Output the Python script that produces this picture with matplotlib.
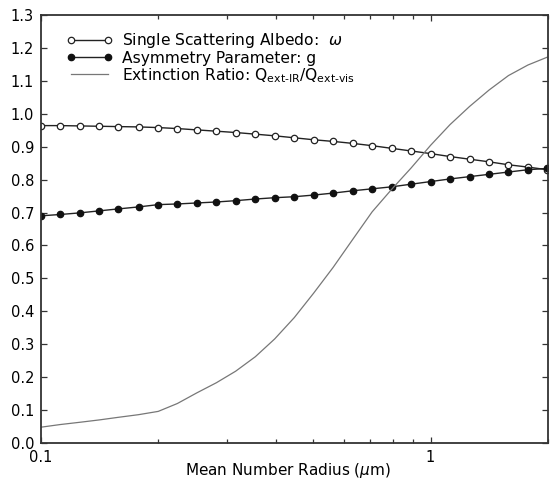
#!/usr/bin/env python3
'''
Optical properties vs mean number radius
'''
import matplotlib
matplotlib.use('Agg')
import matplotlib.pyplot as plt
from matplotlib.ticker import FixedLocator, FixedFormatter, NullFormatter

plt.rcParams['font.family'] = ['DejaVu Sans']
plt.rcParams['mathtext.fontset'] = 'dejavusans'

# mean number radius (um), log spaced
radius = [0.100, 0.112, 0.126, 0.141, 0.158, 0.178, 0.200, 0.224, 0.251,
          0.282, 0.316, 0.355, 0.398, 0.447, 0.501, 0.562, 0.631, 0.708,
          0.794, 0.891, 1.000, 1.122, 1.259, 1.413, 1.585, 1.778, 1.995]

albedo = [0.964, 0.964, 0.963, 0.962, 0.961, 0.960, 0.958, 0.955, 0.951,
          0.947, 0.943, 0.938, 0.933, 0.927, 0.921, 0.916, 0.910, 0.903,
          0.895, 0.887, 0.879, 0.870, 0.862, 0.854, 0.845, 0.838, 0.830]

asym = [0.690, 0.694, 0.699, 0.705, 0.711, 0.717, 0.724, 0.726, 0.729,
        0.732, 0.736, 0.741, 0.745, 0.748, 0.753, 0.759, 0.766, 0.772,
        0.778, 0.786, 0.794, 0.802, 0.809, 0.816, 0.823, 0.830, 0.834]

ext_ratio = [0.048, 0.056, 0.063, 0.070, 0.078, 0.086, 0.096, 0.120, 0.152,
             0.183, 0.218, 0.262, 0.316, 0.381, 0.455, 0.533, 0.618, 0.702,
             0.770, 0.835, 0.904, 0.967, 1.022, 1.072, 1.116, 1.148, 1.172]

y_ticks = [0.0, 0.1, 0.2, 0.3, 0.4, 0.5, 0.6, 0.7, 0.8, 0.9, 1.0, 1.1, 1.2, 1.3]


def main():
    ''' Draw the figure '''
    fig = plt.figure(figsize=(5.59, 4.80), dpi=100)
    ax = fig.add_axes([0.0733, 0.0771, 0.9067, 0.8917])

    ax.plot(radius, albedo, color='#222222', lw=1.0, marker='o', ms=4.6,
            mfc='white', mec='#222222', mew=0.9,
            label=r'Single Scattering Albedo:  $\omega$')
    ax.plot(radius, asym, color='#222222', lw=1.0, marker='o', ms=4.6,
            mfc='#111111', mec='#111111', mew=0.9,
            label='Asymmetry Parameter: g')
    ax.plot(radius, ext_ratio, color='#777777', lw=0.9,
            label='Extinction Ratio: Q$_{\\mathregular{ext\u2010IR}}$'
                  '/Q$_{\\mathregular{ext\u2010vis}}$')

    ax.set_xscale('log')
    ax.set_xlim(0.1, 2.0)
    ax.set_ylim(0.0, 1.3)

    ax.xaxis.set_major_locator(FixedLocator([0.1, 1.0]))
    ax.xaxis.set_major_formatter(FixedFormatter(['0.1', '1']))
    ax.xaxis.set_minor_locator(FixedLocator(
        [0.2, 0.3, 0.4, 0.5, 0.6, 0.7, 0.8, 0.9, 2.0]))
    ax.xaxis.set_minor_formatter(NullFormatter())
    ax.set_yticks(y_ticks)
    ax.set_yticklabels(['%.1f' % v for v in y_ticks])

    ax.tick_params(which='both', direction='in', top=True, right=True,
                   labelsize=10.5, width=0.9, color='#333333')
    ax.tick_params(which='major', length=4)
    ax.tick_params(which='minor', length=3)
    ax.tick_params(axis='y', pad=5)
    ax.tick_params(axis='x', pad=5)
    for spine in ax.spines.values():
        spine.set_linewidth(1.3)
        spine.set_color('#333333')

    fig.text(0.515, 0.0, r'Mean Number Radius ($\mu$m)', ha='center',
             va='bottom', fontsize=11)

    ax.legend(loc='upper left', bbox_to_anchor=(0.05, 0.962), frameon=False,
              numpoints=2, handlelength=3.0, handletextpad=0.55,
              labelspacing=0.02, fontsize=11.2, borderpad=0,
              borderaxespad=0)

    fig.savefig('out.png', dpi=100)


if __name__ == '__main__':
    main()
